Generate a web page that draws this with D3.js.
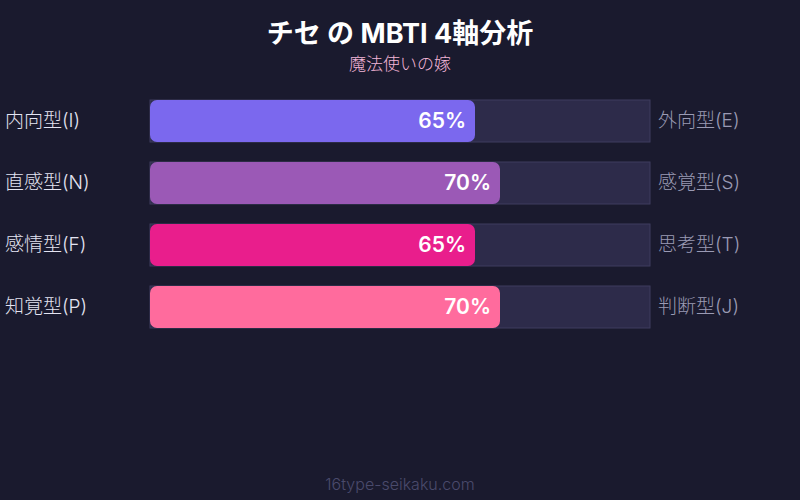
<!DOCTYPE html>
<html><head><meta charset="utf-8">
<script src="https://cdn.jsdelivr.net/npm/d3@7"></script>
<style>html,body{margin:0;padding:0;background:#1a1a2e;}svg{display:block;}</style>
</head><body>
<svg id="c" width="800" height="500"></svg>
<script>
const leftLabels = ["内向型(I)", "直感型(N)", "感情型(F)", "知覚型(P)"];
const rightLabels = ["外向型(E)", "感覚型(S)", "思考型(T)", "判断型(J)"];
const values = [65, 70, 65, 70];
const colors = ["#7b68ee", "#9b59b6", "#e91e8c", "#ff6b9d"];
const title = "チセ の MBTI 4軸分析";
const subtitle = "魔法使いの嫁";
const footer = "16type-seikaku.com";

const font = "Inter, 'Noto Sans CJK JP', sans-serif";
const svg = d3.select("#c").style("font-family", font);
svg.append("rect").attr("width", 800).attr("height", 500).attr("fill", "#1a1a2e");

const x = d3.scaleLinear().domain([0, 100]).range([150, 650]);
const yb = d3.scaleBand().domain(d3.range(values.length)).range([100, 100 + 62*values.length - 20]).paddingInner(20/62);

svg.append("text").attr("x", 400).attr("y", 43).attr("text-anchor", "middle")
  .attr("fill", "#ffffff").attr("font-size", 27).attr("font-weight", "bold").text(title);
svg.append("text").attr("x", 400).attr("y", 70).attr("text-anchor", "middle")
  .attr("fill", "#f4b6d8").attr("font-size", 17).attr("font-weight", 300).text(subtitle);

const g = svg.selectAll("g.row").data(values).join("g").attr("class", "row");
g.append("rect").attr("x", x(0)).attr("y", (d, i) => yb(i))
  .attr("width", x(100) - x(0)).attr("height", yb.bandwidth())
  .attr("fill", "#2d2b4a").attr("stroke", "#3e3c5e").attr("stroke-width", 1);
g.append("rect").attr("x", x(0)).attr("y", (d, i) => yb(i))
  .attr("width", d => x(d) - x(0)).attr("height", yb.bandwidth())
  .attr("rx", 7).attr("fill", (d, i) => colors[i]);
g.append("text").attr("x", d => x(d) - 9).attr("y", (d, i) => yb(i) + yb.bandwidth()/2)
  .attr("dy", "0.35em").attr("text-anchor", "end").attr("fill", "#ffffff")
  .attr("font-size", 21).attr("font-weight", 600).text(d => d + "%");
g.append("text").attr("x", 5).attr("y", (d, i) => yb(i) + yb.bandwidth()/2)
  .attr("dy", "0.32em").attr("fill", "#e4e4f2").attr("font-size", 19).attr("font-weight", 300).text((d, i) => leftLabels[i]);
g.append("text").attr("x", 658).attr("y", (d, i) => yb(i) + yb.bandwidth()/2)
  .attr("dy", "0.32em").attr("fill", "#9a9ab4").attr("font-size", 19).attr("font-weight", 300).text((d, i) => rightLabels[i]);

svg.append("text").attr("x", 400).attr("y", 490).attr("text-anchor", "middle")
  .attr("fill", "#4a4a6c").attr("font-size", 16).attr("font-weight", 300).text(footer);
</script>
</body></html>
